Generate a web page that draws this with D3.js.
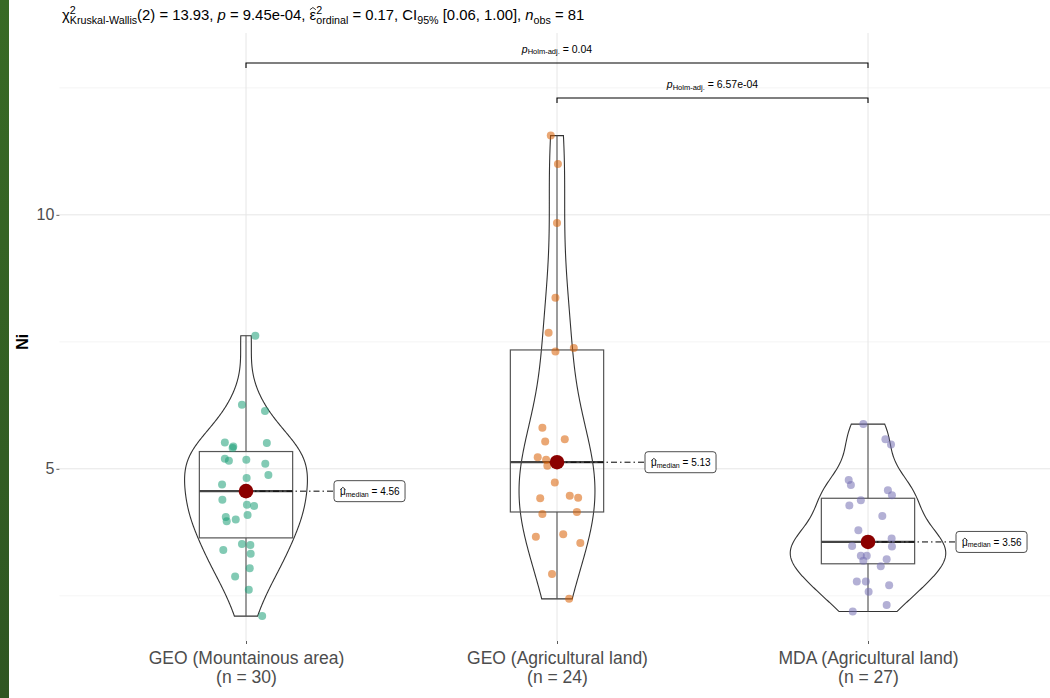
<!DOCTYPE html>
<html>
<head>
<meta charset="utf-8">
<script src="https://cdn.jsdelivr.net/npm/d3@7"></script>
<style>
  html, body { margin: 0; padding: 0; background: #fff; }
  svg { display: block; font-family: "Liberation Sans", Arial, sans-serif; }
</style>
</head>
<body>
<svg id="chart" width="1050" height="698"></svg>
<script>
// ---- data -------------------------------------------------------------
const groups = ["GEO (Mountainous area)", "GEO (Agricultural land)", "MDA (Agricultural land)"];
const groupN = [30, 24, 27];
const groupColors = ["#1B9E77", "#D95F02", "#7570B3"];

// Ni values per group, with their horizontal jitter (in category units)
const niMountain = [7.62, 6.26, 6.14, 5.52, 5.44, 5.41, 5.51, 5.20, 5.16, 5.18, 5.10, 4.88, 4.82, 4.69, 4.56,
  4.39, 4.29, 4.27, 4.05, 3.97, 4.00, 4.09, 3.52, 3.50, 3.40, 3.33, 3.04, 2.88, 2.62, 2.10];
const jitMountain = [0.030, -0.013, 0.061, -0.068, -0.041, -0.043, 0.067, -0.068, -0.055, 0.001, 0.062, 0.072, 0.002, -0.077, 0.000,
  -0.076, 0.003, 0.026, -0.065, -0.062, -0.033, 0.005, -0.013, 0.014, -0.073, 0.015, 0.012, -0.035, 0.009, 0.052];

const niGeoAgri = [11.56, 11.00, 9.84, 8.37, 7.68, 7.31, 7.38, 5.81, 5.54, 5.58, 5.23, 5.18, 5.06, 4.73,
  4.42, 4.47, 4.43, 4.11, 4.15, 3.66, 3.71, 3.54, 2.93, 2.44];
const jitGeoAgri = [-0.020, 0.003, 0.000, -0.005, -0.027, -0.005, 0.054, -0.047, -0.038, 0.025, -0.062, -0.035, -0.031, -0.007,
  -0.054, 0.041, 0.068, -0.047, 0.064, -0.068, 0.020, 0.075, -0.016, 0.039];

const niMdaAgri = [5.88, 5.58, 5.48, 4.78, 4.68, 4.58, 4.48, 4.38, 4.28, 4.07, 3.79, 3.63, 3.56, 3.57, 3.48, 3.47,
  3.29, 3.29, 3.19, 3.22, 3.08, 2.78, 2.78, 2.71, 2.58, 2.32, 2.19];
const jitMdaAgri = [-0.015, 0.056, 0.074, -0.062, -0.055, 0.064, 0.077, -0.023, -0.060, 0.046, -0.031, 0.076, -0.005, 0.010, -0.051, 0.077,
  -0.023, -0.004, -0.015, 0.060, 0.041, -0.036, -0.007, 0.068, 0.002, 0.060, -0.049];

// box statistics and medians as reported
const q1Values = [3.64, 4.15, 3.13];
const q3Values = [5.34, 7.34, 4.42];
const medianValues = [4.56, 5.13, 3.56];
const medianLabels = ["4.56", "5.13", "3.56"];

// pairwise comparisons (group index pairs, Holm-adjusted p)
const pairFrom = [0, 1];
const pairTo = [2, 2];
const pairP = ["0.04", "6.57e-04"];
const pairLevel = [12.99, 12.30];

const yTicks = [5, 10];
const yMinor = [2.5, 7.5, 12.5];

const values = [niMountain, niGeoAgri, niMdaAgri];
const jitters = [jitMountain, jitGeoAgri, jitMdaAgri];

// ---- layout -----------------------------------------------------------
const svg = d3.select("#chart");
const panel = { left: 59.4, right: 1054.6, top: 33, bottom: 641 };

const x = d3.scalePoint().domain(d3.range(groups.length))
  .range([panel.left, panel.right]).padding(0.6);
const step = x.step();
const y = d3.scaleLinear().domain([1.61, 13.58]).range([panel.bottom, panel.top]);

// draws a circumflex hat over character `idx` of a text element
function hatOver(parent, textNode, idx, lift) {
  const ext = textNode.getExtentOfChar(idx);
  const cx = ext.x + ext.width / 2, top = ext.y + lift;
  const hw = ext.width * 0.45;
  parent.append("path")
    .attr("d", `M${cx - hw},${top + 2.2}L${cx},${top}L${cx + hw},${top + 2.2}`)
    .attr("fill", "none").attr("stroke", "#000").attr("stroke-width", 0.8);
}

// left decorative strip
const defs = svg.append("defs");
const grad = defs.append("linearGradient").attr("id", "strip").attr("x1", 0).attr("y1", 0).attr("x2", 0).attr("y2", 1);
grad.append("stop").attr("offset", "0%").attr("stop-color", "#386a25");
grad.append("stop").attr("offset", "100%").attr("stop-color", "#2f5622");
svg.append("rect").attr("x", 0).attr("y", 0).attr("width", 9).attr("height", 698).attr("fill", "url(#strip)");

// grid
const grid = svg.append("g");
grid.selectAll(".minor").data(yMinor).join("line")
  .attr("x1", panel.left).attr("x2", panel.right)
  .attr("y1", d => y(d)).attr("y2", d => y(d))
  .attr("stroke", "#f1f1f1").attr("stroke-width", 0.8);
grid.selectAll(".major").data(yTicks).join("line")
  .attr("x1", panel.left).attr("x2", panel.right)
  .attr("y1", d => y(d)).attr("y2", d => y(d))
  .attr("stroke", "#e6e6e6").attr("stroke-width", 1);
grid.selectAll(".vmajor").data(d3.range(groups.length)).join("line")
  .attr("x1", d => x(d)).attr("x2", d => x(d))
  .attr("y1", panel.top).attr("y2", panel.bottom)
  .attr("stroke", "#e6e6e6").attr("stroke-width", 1);

// axes
const yAxis = d3.axisLeft(y).tickValues(yTicks).tickSize(3).tickPadding(2).tickFormat(d3.format("d"));
const gy = svg.append("g").attr("transform", `translate(${panel.left},0)`).call(yAxis);
gy.select(".domain").remove();
gy.selectAll("line").attr("stroke", "#333").attr("stroke-width", 0.8);
gy.selectAll("text").attr("fill", "#4d4d4d").attr("font-size", 16);

const xAxis = d3.axisBottom(x).tickSize(3).tickPadding(4).tickFormat(() => "");
const gx = svg.append("g").attr("transform", `translate(0,${panel.bottom})`).call(xAxis);
gx.select(".domain").remove();
gx.selectAll("line").attr("stroke", "#333").attr("stroke-width", 0.8);
gx.selectAll(".tick text").remove();
gx.selectAll(".tick").each(function (d) {
  const t = d3.select(this).append("text").attr("text-anchor", "middle")
    .attr("fill", "#4d4d4d").attr("font-size", 17.5);
  t.append("tspan").attr("x", 0).attr("y", 23).text(groups[d]);
  t.append("tspan").attr("x", 0).attr("y", 42).text(`(n = ${groupN[d]})`);
});

svg.append("text").attr("transform", `translate(28,${y(7.5)}) rotate(-90)`)
  .attr("text-anchor", "middle").attr("font-weight", "bold").attr("font-size", 16)
  .attr("fill", "#000").text("Ni");

// ---- violins (gaussian KDE, bw.nrd0, trimmed, equal area) ------------
function nrd0(v) {
  const s = v.slice().sort(d3.ascending);
  const sd = d3.deviation(v);
  const iqr = d3.quantile(s, 0.75) - d3.quantile(s, 0.25);
  return 0.9 * Math.min(sd, iqr / 1.34) * Math.pow(v.length, -0.2);
}
function kde(v) {
  const bw = nrd0(v);
  const lo = d3.min(v), hi = d3.max(v);
  const n = 256;
  return d3.range(n).map(i => {
    const t = lo + (hi - lo) * i / (n - 1);
    const dens = d3.mean(v, xi => Math.exp(-0.5 * ((t - xi) / bw) ** 2)) / (bw * Math.sqrt(2 * Math.PI));
    return [t, dens];
  });
}
const densities = values.map(kde);
const globalMax = d3.max(densities, d => d3.max(d, p => p[1]));
const violinHalf = 0.25 * step;

const violinG = svg.append("g");
densities.forEach((dens, i) => {
  const w = d3.scaleLinear().domain([0, globalMax]).range([0, violinHalf]);
  const area = d3.area().curve(d3.curveLinear)
    .y(p => y(p[0])).x0(p => x(i) - w(p[1])).x1(p => x(i) + w(p[1]));
  violinG.append("path").datum(dens).attr("d", area)
    .attr("fill", "none").attr("stroke", "#333").attr("stroke-width", 1.1);
});

// ---- boxplots ---------------------------------------------------------
const boxHalf = 0.15 * step;
const boxG = svg.append("g");
values.forEach((v, i) => {
  const q1 = q1Values[i], q3 = q3Values[i], iqr = q3 - q1;
  const lowW = d3.min(v.filter(d => d >= q1 - 1.5 * iqr));
  const highW = d3.max(v.filter(d => d <= q3 + 1.5 * iqr));
  boxG.append("line").attr("x1", x(i)).attr("x2", x(i)).attr("y1", y(highW)).attr("y2", y(q3))
    .attr("stroke", "#555").attr("stroke-width", 1.1);
  boxG.append("line").attr("x1", x(i)).attr("x2", x(i)).attr("y1", y(q1)).attr("y2", y(lowW))
    .attr("stroke", "#555").attr("stroke-width", 1.1);
  boxG.append("rect").attr("x", x(i) - boxHalf).attr("width", 2 * boxHalf)
    .attr("y", y(q3)).attr("height", y(q1) - y(q3))
    .attr("fill", "none").attr("stroke", "#555").attr("stroke-width", 1.2);
  boxG.append("line").attr("x1", x(i) - boxHalf).attr("x2", x(i) + boxHalf)
    .attr("y1", y(medianValues[i])).attr("y2", y(medianValues[i]))
    .attr("stroke", "#444").attr("stroke-width", 2.2);
});

// ---- jittered points --------------------------------------------------
const ptG = svg.append("g");
values.forEach((v, i) => {
  ptG.selectAll(null).data(v.map((d, k) => ({ v: d, j: jitters[i][k] }))).join("circle")
    .attr("cx", d => x(i) + d.j * step).attr("cy", d => y(d.v)).attr("r", 4)
    .attr("fill", groupColors[i]).attr("fill-opacity", 0.55);
});

// ---- median markers and labels ---------------------------------------
const labG = svg.append("g");
medianValues.forEach((m, i) => {
  const lx = x(i) + 88;
  labG.append("line").attr("x1", x(i)).attr("x2", lx).attr("y1", y(m)).attr("y2", y(m))
    .attr("stroke", "#000").attr("stroke-width", 1).attr("stroke-dasharray", "6,3,1.5,3");
  labG.append("circle").attr("cx", x(i)).attr("cy", y(m)).attr("r", 7.3).attr("fill", "#8B0000");
  const g = labG.append("g").attr("transform", `translate(${lx},${y(m)})`);
  const t = g.append("text").attr("x", 6).attr("y", 4).attr("font-size", 10).attr("fill", "#000");
  t.append("tspan").text("μ");
  t.append("tspan").attr("font-size", 7).attr("dy", 1.5).text("median");
  t.append("tspan").attr("dy", -1.5).text(` = ${medianLabels[i]}`);
  const bb = t.node().getBBox();
  g.insert("rect", "text").attr("x", 0).attr("y", -10.5).attr("width", bb.width + 11).attr("height", 21)
    .attr("rx", 3).attr("fill", "#fff").attr("stroke", "#222").attr("stroke-width", 0.8);
  hatOver(g, t.node(), 0, 1.2);
});

// ---- pairwise brackets -------------------------------------------------
const brG = svg.append("g");
pairFrom.forEach((a, k) => {
  const b = pairTo[k], yy = y(pairLevel[k]);
  brG.append("path")
    .attr("d", `M${x(a)},${yy + 5}V${yy}H${x(b)}V${yy + 5}`)
    .attr("fill", "none").attr("stroke", "#000").attr("stroke-width", 1.1);
  const t = brG.append("text").attr("x", (x(a) + x(b)) / 2).attr("y", yy - 10)
    .attr("text-anchor", "middle").attr("font-size", 10.5).attr("fill", "#000");
  t.append("tspan").attr("font-style", "italic").text("p");
  t.append("tspan").attr("font-size", 7.5).attr("dy", 1.5).text("Holm-adj.");
  t.append("tspan").attr("dy", -1.5).text(` = ${pairP[k]}`);
});

// ---- subtitle with test statistics ---------------------------------
const tfs = 14.85, sfs = 10.7, supBack = -5.95;
const title = svg.append("text").attr("x", 62).attr("y", 20).attr("font-size", tfs).attr("fill", "#000");
title.append("tspan").text("χ");
title.append("tspan").attr("font-size", sfs).attr("dy", -6.5).text("2");
title.append("tspan").attr("font-size", sfs).attr("dx", supBack).attr("dy", 10).text("Kruskal-Wallis");
title.append("tspan").attr("dy", -3.5).text("(2) = 13.93, ");
title.append("tspan").attr("font-style", "italic").text("p");
title.append("tspan").text(" = 9.45e-04, ");
title.append("tspan").text("ε");
title.append("tspan").attr("font-size", sfs).attr("dy", -6.5).text("2");
title.append("tspan").attr("font-size", sfs).attr("dx", supBack).attr("dy", 10).text("ordinal");
title.append("tspan").attr("dy", -3.5).text(" = 0.17, CI");
title.append("tspan").attr("font-size", sfs).attr("dy", 3.5).text("95%");
title.append("tspan").attr("dy", -3.5).text(" [0.06, 1.00], ");
title.append("tspan").attr("font-style", "italic").text("n");
title.append("tspan").attr("font-size", sfs).attr("dy", 3.5).text("obs");
title.append("tspan").attr("dy", -3.5).text(" = 81");
// hat over epsilon
{
  const idx = title.text().indexOf("ε");
  hatOver(svg, title.node(), idx, 0.5);
}
</script>
</body>
</html>
